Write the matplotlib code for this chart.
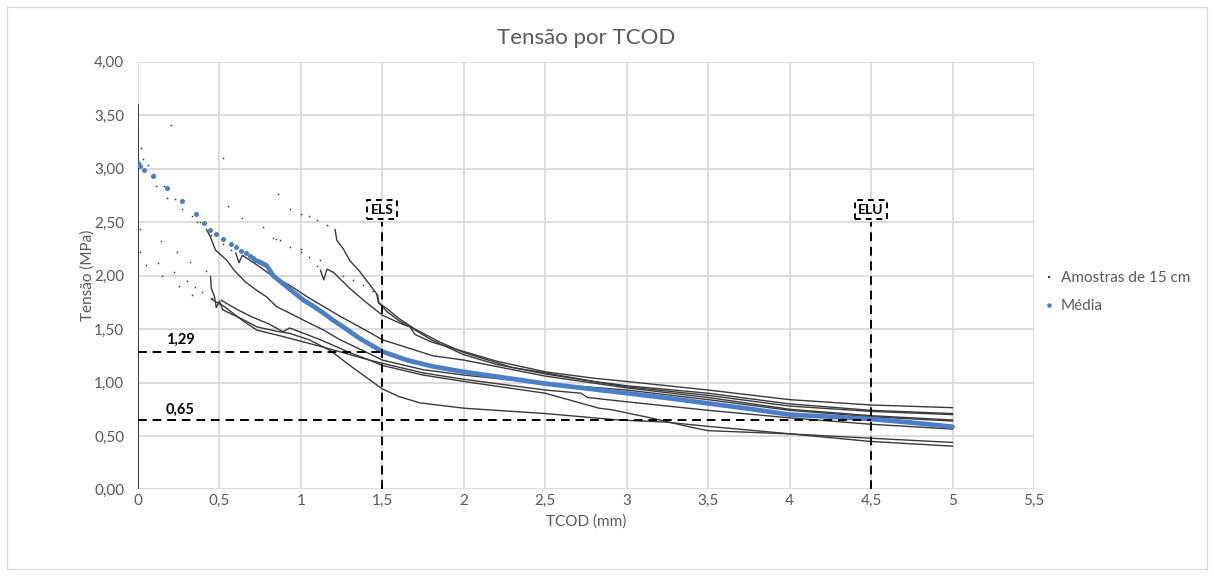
import matplotlib
matplotlib.use('Agg')
import matplotlib.pyplot as plt
from matplotlib.lines import Line2D
from matplotlib.patches import Rectangle
from matplotlib.ticker import FuncFormatter

plt.rcParams['font.family'] = ['Lato', 'DejaVu Sans']

# ---------------- data ----------------
x_ticks = [0, 0.5, 1, 1.5, 2, 2.5, 3, 3.5, 4, 4.5, 5, 5.5]
y_ticks = [0, 0.5, 1.0, 1.5, 2.0, 2.5, 3.0, 3.5, 4.0]

peaks = [3.60, 3.41, 3.19, 3.09, 3.10, 2.65, 2.44, 2.22]

s1_sx = [0.20, 0.86, 0.93, 1.00, 1.05, 1.10, 1.16]
s1_sy = [3.41, 2.76, 2.62, 2.58, 2.56, 2.52, 2.47]
s1_x = [1.21, 1.22, 1.26, 1.30, 1.36, 1.40, 1.465, 1.475, 1.53, 1.60, 1.67, 1.70, 1.80, 2.0, 2.2, 2.5, 2.8, 3.0, 3.5, 4.0, 4.5, 5.0]
s1_y = [2.43, 2.33, 2.25, 2.14, 2.04, 1.96, 1.83, 1.75, 1.66, 1.58, 1.52, 1.45, 1.38, 1.29, 1.20, 1.10, 1.04, 1.01, 0.93, 0.84, 0.79, 0.765]

s2_sx = [0.52, 0.83, 0.87, 0.93, 1.00, 1.05, 1.10]
s2_sy = [3.10, 2.35, 2.33, 2.27, 2.22, 2.17, 2.09]
s2_x = [1.12, 1.14, 1.16, 1.20, 1.30, 1.40, 1.50, 1.60, 1.67, 1.80, 2.0, 2.2, 2.5, 3.0, 3.5, 4.0, 4.5, 5.0]
s2_y = [2.05, 1.96, 2.06, 2.03, 1.88, 1.75, 1.63, 1.56, 1.52, 1.40, 1.26, 1.17, 1.08, 0.96, 0.88, 0.78, 0.73, 0.70]

s3_sx = [0.03, 0.11, 0.18, 0.27, 0.36, 0.45, 0.52, 0.57]
s3_sy = [3.09, 2.84, 2.73, 2.62, 2.50, 2.38, 2.30, 2.24]
s3_x = [0.60, 0.62, 0.64, 0.73, 0.83, 0.93, 1.04, 1.14, 1.24, 1.42, 1.5, 1.81, 2.0, 2.5, 3.0, 3.5, 4.0, 4.5, 5.0]
s3_y = [2.21, 2.12, 2.19, 2.10, 1.99, 1.91, 1.80, 1.71, 1.62, 1.47, 1.40, 1.25, 1.21, 1.06, 0.95, 0.86, 0.75, 0.69, 0.65]

s4_sx = [0.02, 0.06, 0.10, 0.16, 0.23, 0.33, 0.38]
s4_sy = [3.19, 3.03, 2.95, 2.84, 2.72, 2.56, 2.50]
s4_x = [0.42, 0.445, 0.475, 0.547, 0.59, 0.66, 0.73, 0.79, 0.85, 0.93, 1.02, 1.14, 1.24, 1.42, 1.5, 1.75, 2.0, 2.5, 3.0, 3.5, 4.0, 4.5, 5.0]
s4_y = [2.43, 2.36, 2.24, 2.14, 2.05, 1.94, 1.86, 1.80, 1.71, 1.65, 1.58, 1.49, 1.40, 1.27, 1.21, 1.12, 1.07, 0.99, 0.93, 0.84, 0.74, 0.68, 0.64]

s5_sx = [0.55, 0.64, 0.77, 0.85, 1.00, 1.12, 1.26, 1.32, 1.38, 1.44]
s5_sy = [2.65, 2.54, 2.45, 2.34, 2.25, 2.15, 2.00, 1.96, 1.91, 1.86]
s5_x = [1.47, 1.48, 1.52, 1.60, 1.70, 1.85, 2.0, 2.3, 2.5, 2.8, 3.0, 3.5, 4.0, 4.5, 5.0]
s5_y = [1.82, 1.74, 1.70, 1.60, 1.50, 1.38, 1.28, 1.14, 1.09, 1.01, 0.97, 0.90, 0.80, 0.74, 0.71]

s6_sx = [0.01, 0.14, 0.24, 0.32, 0.42]
s6_sy = [2.44, 2.32, 2.22, 2.13, 2.04]
s6_x = [0.445, 0.45, 0.47, 0.48, 0.50, 0.52, 0.63, 0.73, 0.85, 0.93, 1.05, 1.18, 1.30, 1.40, 1.5, 1.6, 1.73, 2.0, 2.5, 2.95, 3.24, 3.5, 3.97, 4.49, 5.0]
s6_y = [1.99, 1.88, 1.80, 1.70, 1.76, 1.68, 1.60, 1.52, 1.48, 1.46, 1.40, 1.30, 1.16, 1.05, 0.94, 0.87, 0.81, 0.76, 0.71, 0.65, 0.63, 0.59, 0.525, 0.45, 0.405]

s7_sx = [0.01, 0.12, 0.22, 0.30, 0.35, 0.39, 0.455]
s7_sy = [2.22, 2.12, 2.03, 1.95, 1.89, 1.85, 1.79]
s7_x = [0.51, 0.60, 0.69, 0.80, 0.89, 0.93, 1.00, 1.12, 1.30, 1.42, 1.5, 1.75, 2.0, 2.5, 2.72, 2.76, 3.0, 3.5, 4.0, 4.5, 5.0]
s7_y = [1.77, 1.69, 1.62, 1.55, 1.475, 1.51, 1.47, 1.40, 1.28, 1.21, 1.18, 1.09, 1.03, 0.93, 0.90, 0.86, 0.82, 0.74, 0.67, 0.61, 0.565]

s8_sx = [0.05, 0.15, 0.25, 0.33]
s8_sy = [2.10, 2.00, 1.90, 1.82]
s8_x = [0.45, 0.53, 0.65, 0.73, 0.89, 1.14, 1.42, 1.5, 1.75, 2.0, 2.5, 2.83, 2.91, 3.16, 3.38, 3.5, 4.0, 4.49, 5.0]
s8_y = [1.78, 1.71, 1.57, 1.49, 1.43, 1.33, 1.21, 1.16, 1.07, 1.01, 0.90, 0.76, 0.745, 0.665, 0.587, 0.55, 0.52, 0.48, 0.44]

media_sx = [0.0, 0.01, 0.037, 0.092, 0.176, 0.267, 0.353, 0.408, 0.44, 0.48, 0.524, 0.573, 0.604, 0.635, 0.665, 0.69, 0.708, 0.72, 0.735, 0.747, 0.76, 0.775, 0.787]
media_sy = [3.05, 3.02, 2.99, 2.93, 2.82, 2.70, 2.58, 2.49, 2.43, 2.39, 2.34, 2.30, 2.27, 2.23, 2.21, 2.18, 2.16, 2.15, 2.14, 2.13, 2.12, 2.11, 2.10]
media_x = [0.80, 0.829, 0.914, 1.016, 1.08, 1.138, 1.20, 1.26, 1.363, 1.5, 1.65, 1.81, 2.0, 2.25, 2.5, 2.75, 3.0, 3.25, 3.5, 3.75, 4.0, 4.25, 4.49, 4.75, 5.0]
media_y = [2.07, 2.00, 1.895, 1.77, 1.71, 1.65, 1.58, 1.52, 1.41, 1.29, 1.21, 1.15, 1.10, 1.045, 0.99, 0.945, 0.90, 0.855, 0.805, 0.755, 0.70, 0.68, 0.66, 0.625, 0.587]

els_x = 1.5
elu_x = 4.5
els_val = 1.29
elu_val = 0.65
ref_top = 2.5

# ---------------- figure ----------------
fig = plt.figure(figsize=(12.14, 5.76), dpi=100)
ax = fig.add_axes([0.1137, 0.1502, 0.7380, 0.7427])

grey = '#595959'
line_c = '#3a3a3a'
blue = '#4A7EC6'

samples = [(s1_sx, s1_sy, s1_x, s1_y), (s2_sx, s2_sy, s2_x, s2_y),
           (s3_sx, s3_sy, s3_x, s3_y), (s4_sx, s4_sy, s4_x, s4_y),
           (s5_sx, s5_sy, s5_x, s5_y), (s6_sx, s6_sy, s6_x, s6_y),
           (s7_sx, s7_sy, s7_x, s7_y), (s8_sx, s8_sy, s8_x, s8_y)]

for pk in peaks:
    ax.plot([0, 0], [0, pk], color=line_c, lw=1.4, zorder=3, solid_capstyle='butt')

for sx, sy, dx, dy in samples:
    ax.plot(sx, sy, ls='none', marker='s', ms=1.1, mew=0, color=line_c, zorder=3)
    ax.plot(dx, dy, color=line_c, lw=1.0, zorder=3)

ax.plot(media_sx, media_sy, ls='none', marker='o', ms=3.6, mew=0, color=blue, zorder=4)
ax.plot(media_x, media_y, color=blue, lw=3.4, zorder=4, solid_capstyle='round', solid_joinstyle='round')

# reference lines
dash = dict(color='black', lw=1.4, dashes=(4.5, 3), zorder=5)
ax.plot([els_x, els_x], [0, ref_top], **dash)
ax.plot([elu_x, elu_x], [0, ref_top], **dash)
ax.plot([0, els_x], [els_val, els_val], **dash)
ax.plot([0, elu_x], [elu_val, elu_val], **dash)

box = dict(boxstyle='square,pad=0.25', fc='white', ec='black', lw=1.4, ls=(0, (3, 2.5)))
ax.text(els_x, 2.615, 'ELS', ha='center', va='center', fontsize=10, fontweight='bold', bbox=box, zorder=6)
ax.text(elu_x, 2.615, 'ELU', ha='center', va='center', fontsize=10, fontweight='bold', bbox=box, zorder=6)
ax.text(0.257, els_val + 0.105, '1,29', ha='center', va='center', fontsize=10.5, fontweight='bold', color='black', zorder=6)
ax.text(0.257, elu_val + 0.093, '0,65', ha='center', va='center', fontsize=10.5, fontweight='bold', color='black', zorder=6)

ax.set_xlim(0, 5.5)
ax.set_ylim(0, 4)
ax.set_xticks(x_ticks)
ax.set_yticks(y_ticks)

def fx(v, p):
    if abs(v - round(v)) < 1e-9:
        return '%d' % round(v)
    return ('%.1f' % v).replace('.', ',')

def fy(v, p):
    return ('%.2f' % v).replace('.', ',')

ax.xaxis.set_major_formatter(FuncFormatter(fx))
ax.yaxis.set_major_formatter(FuncFormatter(fy))
ax.grid(True, color='#D9D9D9', lw=1.3, zorder=0)
ax.set_axisbelow(True)
for sp in ax.spines.values():
    sp.set_visible(False)
ax.tick_params(length=0, colors=grey, labelsize=11)
ax.tick_params(axis='y', pad=10)
ax.tick_params(axis='x', pad=3)

fig.text(586 / 1214, 1 - 522 / 576, 'TCOD (mm)', ha='center', va='center', fontsize=11, color=grey)
fig.text(88 / 1214, 1 - 275 / 576, 'Tensão (MPa)', ha='center', va='center', fontsize=11, color=grey, rotation=90)

fig.text(586 / 1214, 1 - 38 / 576, 'Tensão por TCOD', ha='center', va='center', fontsize=16, color=grey)

handles = [Line2D([], [], ls='none', marker='s', ms=1.5, mew=0, color=line_c),
           Line2D([], [], ls='none', marker='o', ms=3.2, mew=0, color=blue)]
fig.legend(handles, ['Amostras de 15 cm', 'Média'], loc='center left',
           bbox_to_anchor=(1044 / 1214, 1 - 292 / 576), frameon=False, fontsize=11,
           labelcolor=grey, handlelength=0.6, handletextpad=0.5, labelspacing=0.9,
           borderpad=0, borderaxespad=0)

fig.add_artist(Rectangle((7 / 1214, 7 / 576), 1200 / 1214, 562 / 576, transform=fig.transFigure,
                         fill=False, ec='#D9D9D9', lw=1.0))

fig.savefig('out.png', dpi=100)
